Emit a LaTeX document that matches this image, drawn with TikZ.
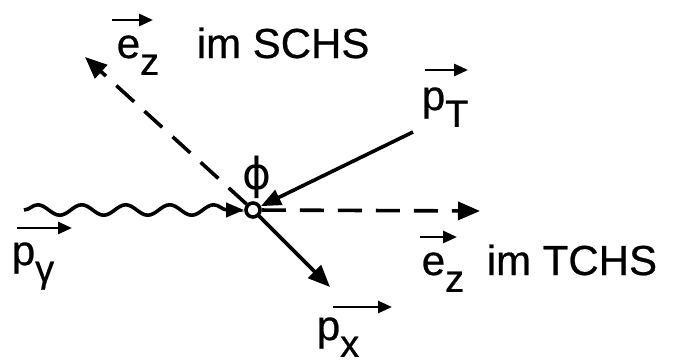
\documentclass[tikz,border=0pt]{standalone}
\usepackage{fontspec}
\setmainfont{Liberation Sans}[FakeBold=0.6]
\newfontfamily\phifont{DejaVu Sans}
\usetikzlibrary{arrows.meta,decorations.pathmorphing,positioning}

\newcommand\lsub[1]{\raisebox{-0.4em}{\fontsize{19}{19}\selectfont #1}}

\begin{document}
\begin{tikzpicture}[x=0.5pt,y=-0.5pt,line width=1.8pt,
    lbl/.style={inner sep=0pt,anchor=base west,font=\fontsize{21}{25}\selectfont},
    vecarr/.style={line width=1.4pt,-{Triangle[length=7pt,width=6pt]}},
    bigarr/.style={-{Triangle[length=11pt,width=9pt]}},
    dashln/.style={dash pattern=on 12pt off 7pt}]
    \useasboundingbox (0,0) rectangle (687,364);
    % vertex and end points
    \node[circle,draw,fill=white,minimum size=7pt,inner sep=0pt] (vtx) at (253,210) {};
    \coordinate (gstart) at (24,210);
    \coordinate (sz) at (85,57);
    \coordinate (tz) at (480,211);
    \coordinate (pxend) at (330,287);
    \coordinate (ptstart) at (413,132);
    % lines
    \draw[decorate,decoration={snake,segment length=22pt,amplitude=2.6pt,post length=8pt},
          -{Triangle[length=9pt,width=7pt]}] (gstart) -- (vtx);
    \draw[dashln,bigarr] (vtx) -- (sz);
    \draw[dashln,bigarr] (vtx) -- (tz);
    \draw[bigarr] (vtx) -- (pxend);
    \draw[-{Triangle[length=10pt,width=8pt]}] (ptstart) -- (vtx);
    % labels
    \node[lbl] (ezS) at (115,58) {e\lsub{z}};
    \node[lbl] (schs) at (195,58) {im SCHS};
    \node[lbl] (pT) at (420,110) {p\lsub{T}};
    \node[lbl] (pg) at (10,265) {p\lsub{γ}};
    \node[lbl] (ezT) at (420,275) {e\lsub{z}};
    \node[lbl] (tchs) at (485,275) {im TCHS};
    \node[lbl] (px) at (315,340) {p\lsub{x}};
    \node[inner sep=0pt,font=\phifont\fontsize{22}{25}\selectfont] (phi) at (257,177) {ϕ};
    % vector arrows
    \draw[vecarr] ([shift={(-3,-38)}]ezS.base west) -- ++(41,0);
    \draw[vecarr] ([shift={(5,-40)}]pT.base west) -- ++(43,0);
    \draw[vecarr] ([shift={(7,-37)}]pg.base west) -- ++(55,0);
    \draw[vecarr] ([shift={(0,-38)}]ezT.base west) -- ++(37,0);
    \draw[vecarr] ([shift={(18,-33)}]px.base west) -- ++(59,0);
\end{tikzpicture}
\end{document}
